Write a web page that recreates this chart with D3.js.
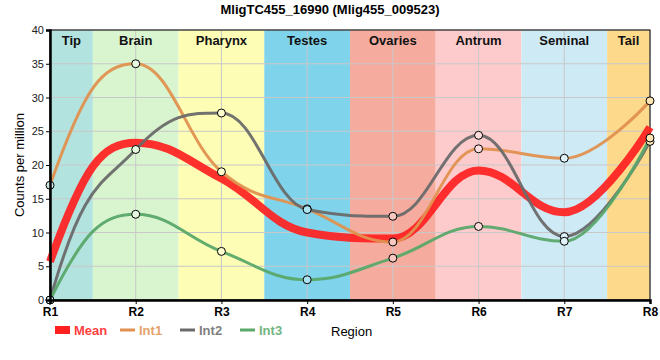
<!DOCTYPE html>
<html><head><meta charset="utf-8">
<script src="https://cdn.jsdelivr.net/npm/d3@7"></script>
<style>body{margin:0;background:#fff;font-family:Arial,"Liberation Sans",sans-serif}</style>
</head><body>
<svg id="c" width="660" height="360"></svg>
<script>
const regions = ["R1","R2","R3","R4","R5","R6","R7","R8"];
const tissues = ["Tip","Brain","Pharynx","Testes","Ovaries","Antrum","Seminal","Tail"];
const tissueColors = ["#b3e3de","#d9f5cf","#fdfdb5","#7fd4ec","#f5ac9f","#fdcbcc","#ceeaf5","#fdd98b"];
const meanVals = [5.7, 23.3, 18.0, 10.0, 9.1, 19.2, 13.0, 25.6];
const int1 = [17.0, 35.0, 19.0, 13.5, 8.6, 22.4, 21.0, 29.5];
const int2 = [0.0, 22.3, 27.7, 13.4, 12.4, 24.4, 9.4, 23.5];
const int3 = [0.0, 12.7, 7.2, 3.0, 6.2, 10.9, 8.7, 24.0];
const yTicks = [0,5,10,15,20,25,30,35,40];
const seriesNames = ["Mean","Int1","Int2","Int3"];
const seriesColors = ["#ff2020","#e0914f","#6a6a6a","#5aa86a"];

// Spline curve: control points at 0.4 of a step, tangent from neighbours, clamped at extrema
function SplineCurve(context){ this._context = context; }
SplineCurve.prototype = {
  areaStart(){ this._line = 0; }, areaEnd(){ this._line = NaN; },
  lineStart(){ this._px = []; this._py = []; },
  point(x, y){ this._px.push(+x); this._py.push(+y); },
  lineEnd(){
    const px = this._px, py = this._py, n = px.length, c = this._context;
    if (!n) return;
    const s = 1.5, den = s + 1;
    const lcx = px.slice(), lcy = py.slice(), rcx = px.slice(), rcy = py.slice();
    for (let i = 1; i < n - 1; i++) {
      const X = px[i], Y = py[i], lx = px[i-1], ly = py[i-1], nx = px[i+1], ny = py[i+1];
      let Lx = (s*X + lx)/den, Ly = (s*Y + ly)/den, Rx = (s*X + nx)/den, Ry = (s*Y + ny)/den;
      let corr = 0;
      if (Rx !== Lx) corr = ((Ry - Ly)*(Rx - X))/(Rx - Lx) + Y - Ry;
      Ly += corr; Ry += corr;
      if (Ly > ly && Ly > Y) { Ly = Math.max(ly, Y); Ry = 2*Y - Ly; }
      else if (Ly < ly && Ly < Y) { Ly = Math.min(ly, Y); Ry = 2*Y - Ly; }
      if (Ry > ny && Ry > Y) { Ry = Math.max(ny, Y); Ly = 2*Y - Ry; }
      else if (Ry < ny && Ry < Y) { Ry = Math.min(ny, Y); Ly = 2*Y - Ry; }
      lcx[i] = Lx; lcy[i] = Ly; rcx[i] = Rx; rcy[i] = Ry;
    }
    if (n > 2) {
      rcx[0] = px[0] + 0.4*(px[1]-px[0]);
      rcy[0] = py[0] + 0.8*(py[1]-py[0]);
    }
    c.moveTo(px[0], py[0]);
    for (let i = 1; i < n; i++) c.bezierCurveTo(rcx[i-1], rcy[i-1], lcx[i], lcy[i], px[i], py[i]);
  }
};
const curveSpline = ctx => new SplineCurve(ctx);

const svg = d3.select("#c");
const L=50, T=30, W=600, H=270;
const x = d3.scalePoint().domain(regions).range([L, L+W]);
const y = d3.scaleLinear().domain([0,40]).range([T+H, T]);
const step = x.step();

const g = svg.append("g");
tissues.forEach((t,i)=>{
  const x0 = Math.max(L, x(regions[i]) - step/2), x1 = Math.min(L+W, x(regions[i]) + step/2);
  g.append("rect").attr("x",x0).attr("y",T).attr("width",x1-x0).attr("height",H).attr("fill",tissueColors[i]);
});
yTicks.forEach(v=>{
  g.append("line").attr("x1",L).attr("x2",L+W).attr("y1",y(v)).attr("y2",y(v)).attr("stroke","#c8c8c8").attr("stroke-width",1);
});
regions.forEach(r=>{
  g.append("line").attr("x1",x(r)).attr("x2",x(r)).attr("y1",T).attr("y2",T+H).attr("stroke","#c8c8c8").attr("stroke-width",1);
});
tissues.forEach((t,i)=>{
  const x0 = Math.max(L, x(regions[i]) - step/2), x1 = Math.min(L+W, x(regions[i]) + step/2);
  g.append("text").attr("x",(x0+x1)/2).attr("y",T+15).attr("text-anchor","middle")
    .attr("font-size",13).attr("font-weight","bold").attr("fill","#111").text(t);
});
g.append("rect").attr("x",L).attr("y",T).attr("width",W).attr("height",H).attr("fill","none").attr("stroke","#000").attr("stroke-width",1);

const line = d3.line().x((d,i)=>x(regions[i])).y(d=>y(d)).curve(curveSpline);
const data = [meanVals,int1,int2,int3];
const widths = [8,3,3,3];
[0,1,2,3].forEach(k=>{
  g.append("path").attr("d",line(data[k])).attr("fill","none").attr("stroke",seriesColors[k])
   .attr("stroke-width",widths[k]).attr("stroke-opacity",k===0?0.92:0.95);
});
[1,2,3].forEach(k=>{
  data[k].forEach((v,i)=>{
    const fc = d3.interpolateRgb(tissueColors[i],"#ffffff")(0.35);
    g.append("circle").attr("cx",x(regions[i])).attr("cy",y(v)).attr("r",4)
     .attr("fill",fc).attr("stroke","#000").attr("stroke-width",1);
  });
});

const yAxis = d3.axisLeft(y).tickValues(yTicks).tickSize(4).tickPadding(2);
const ya = svg.append("g").attr("transform",`translate(${L},0)`).call(yAxis);
ya.select(".domain").attr("stroke","#000").attr("stroke-width",2.5);
ya.selectAll("text").attr("font-size",11).attr("fill","#222").attr("font-family","Arial,'Liberation Sans',sans-serif");
const xAxis = d3.axisBottom(x).tickSize(4).tickPadding(3);
const xa = svg.append("g").attr("transform",`translate(0,${T+H})`).call(xAxis);
xa.select(".domain").attr("stroke","#000").attr("stroke-width",2.5);
xa.selectAll("text").attr("font-size",12).attr("font-weight","bold").attr("fill","#000").attr("font-family","Arial,'Liberation Sans',sans-serif");

svg.append("text").attr("x",330).attr("y",14).attr("text-anchor","middle").attr("font-size",13)
  .attr("font-weight","bold").text("MligTC455_16990 (Mlig455_009523)");
svg.append("text").attr("transform","translate(24,165) rotate(-90)").attr("text-anchor","middle")
  .attr("font-size",13).text("Counts per million");
svg.append("text").attr("x",331).attr("y",336).attr("font-size",13).text("Region");

const legX = [55,120,180,240];
seriesNames.forEach((n,k)=>{
  if(k===0){
    svg.append("rect").attr("x",legX[k]).attr("y",326).attr("width",15).attr("height",8).attr("fill",seriesColors[k]);
  } else {
    svg.append("line").attr("x1",legX[k]).attr("x2",legX[k]+15).attr("y1",330).attr("y2",330)
      .attr("stroke",seriesColors[k]).attr("stroke-width",3);
  }
  svg.append("text").attr("x",legX[k]+19).attr("y",335).attr("font-size",13).attr("font-weight","bold")
    .attr("fill",d3.interpolateRgb(seriesColors[k],"#ffffff")(0.15)).text(n);
});
</script>
</body></html>
